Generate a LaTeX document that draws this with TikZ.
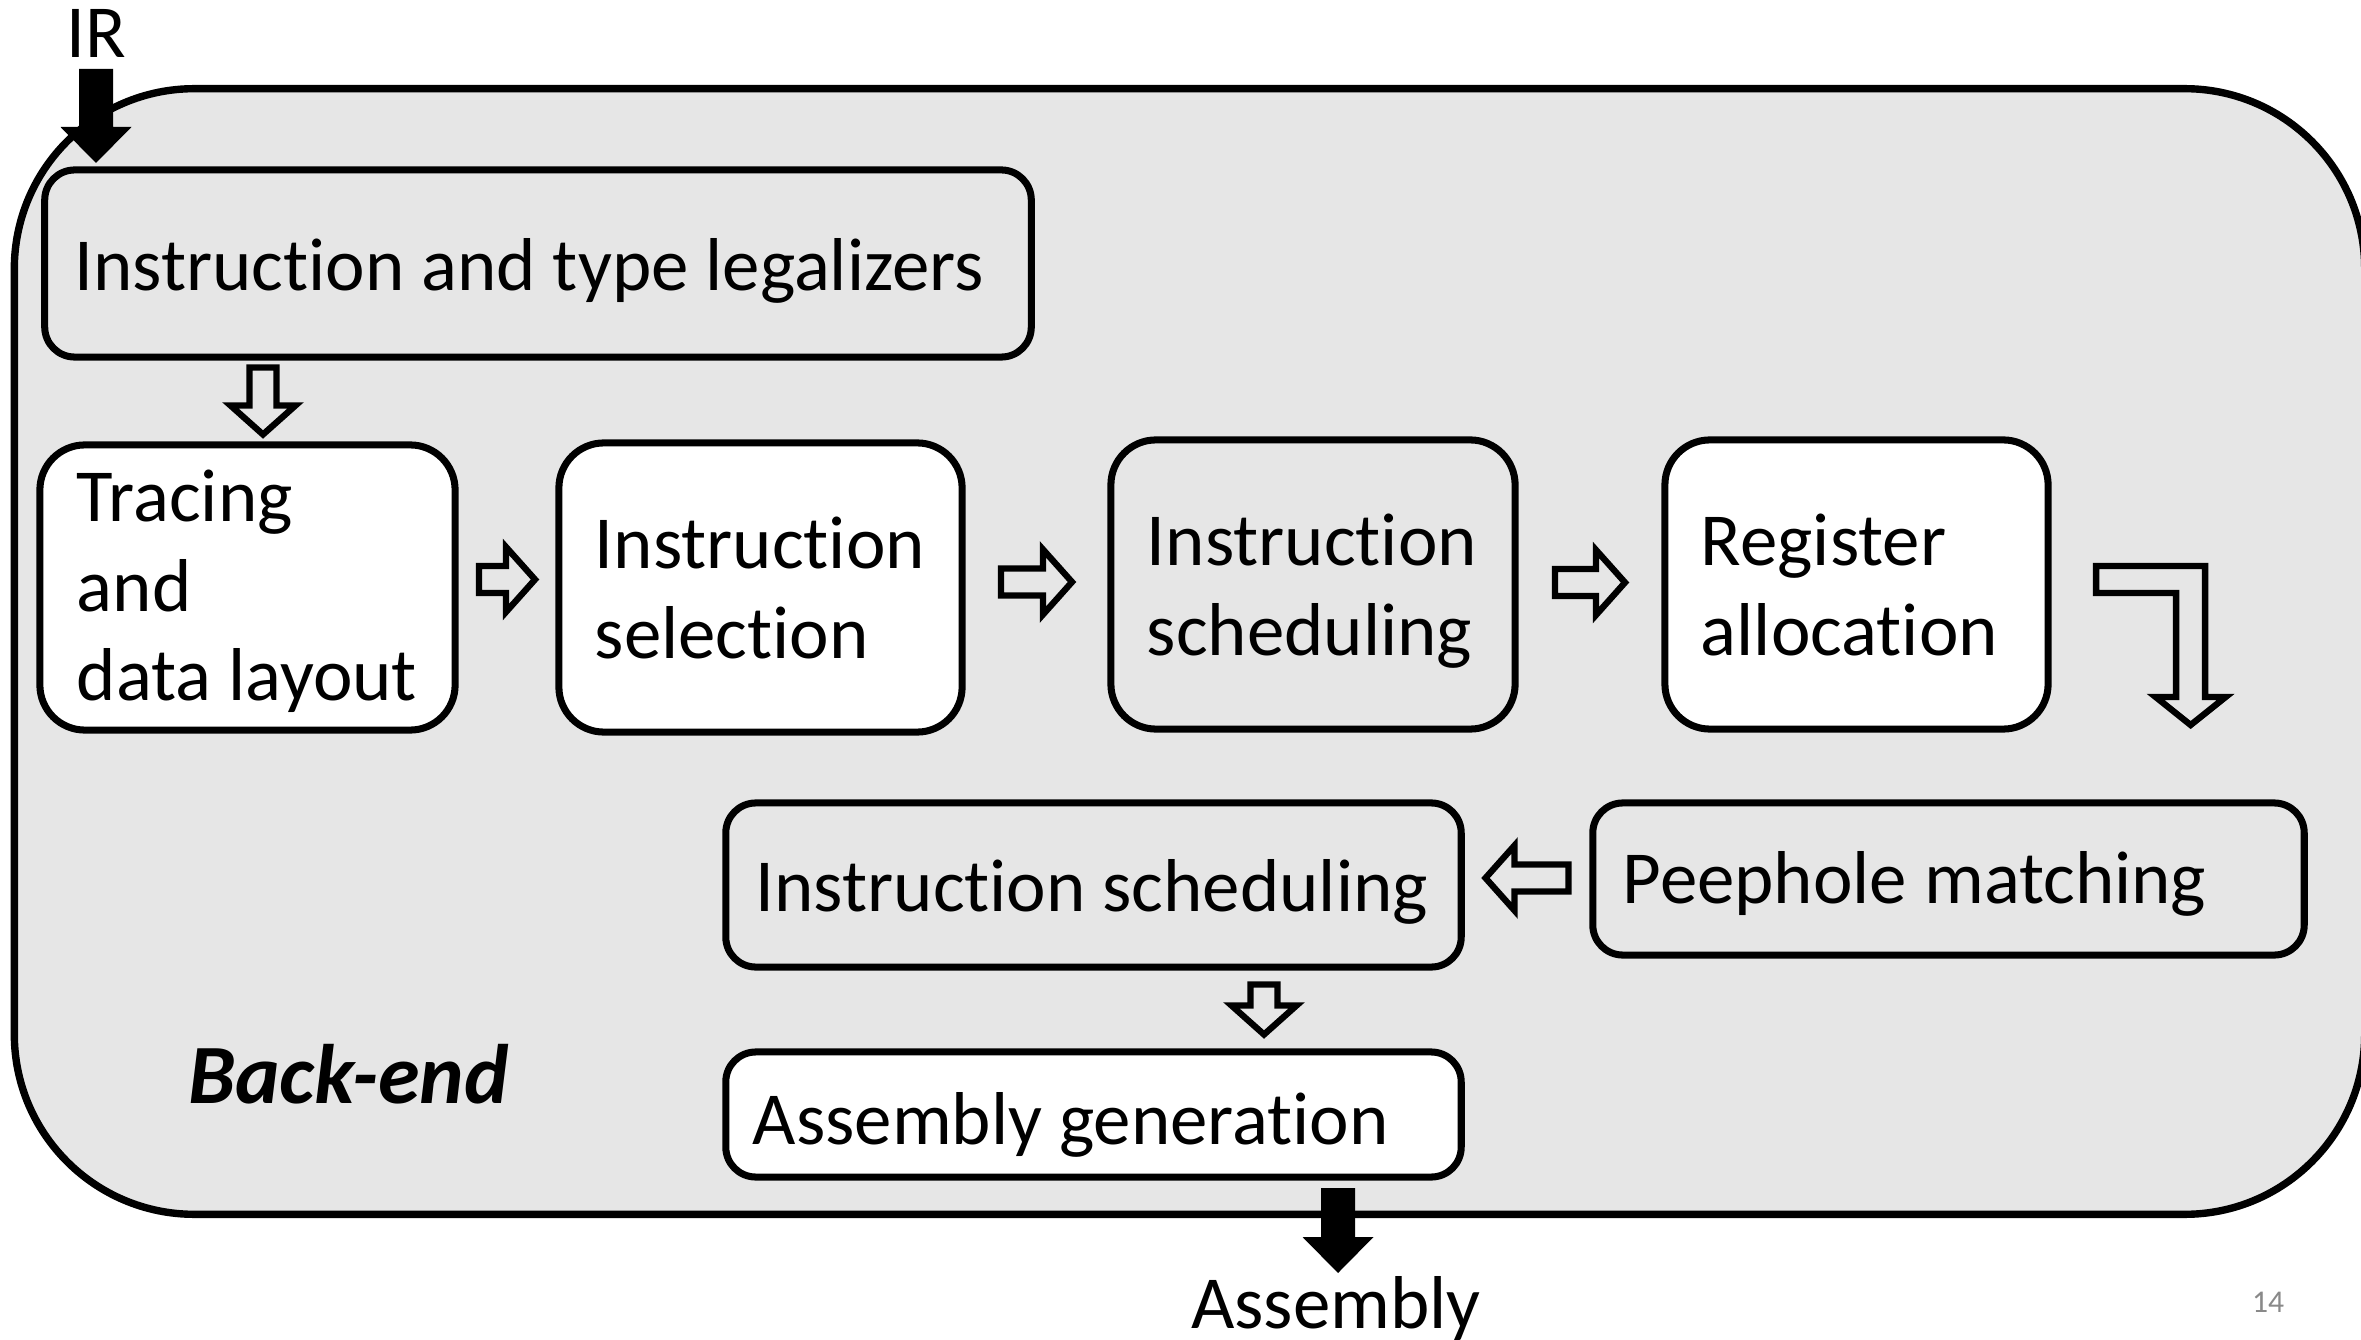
\documentclass[tikz,border=0pt]{standalone}
\usepackage{fontspec}
\setmainfont{Carlito}[Ligatures=NoCommon, RawFeature={-liga;-clig;-calt;-dlig}]
\usetikzlibrary{calc}
\definecolor{panel}{RGB}{230,230,230}
\definecolor{pagenum}{RGB}{137,137,137}
\tikzset{
  every node/.style={inner sep=0pt, outer sep=0pt},
  stage/.style={draw, line width=2pt, rounded corners=#1},
  stage/.default=0.3cm,
  stagetext/.style={anchor=base west, font=\fontsize{21.3pt}{25.4pt}\selectfont},
  arrowstroke/.style={draw, line width=1.8pt, line join=miter, fill=panel},
  pics/hollowarrow/.style={code={
    \path[arrowstroke] ({-#1/2},-13.5) -- ({#1/2-29},-13.5) -- ({#1/2-29},-32.5)
      -- ({#1/2},0) -- ({#1/2-29},32.5) -- ({#1/2-29},13.5) -- ({-#1/2},13.5) -- cycle;
  }},
  pics/solidarrow/.style={code={
    \fill ({-#1/2},-17) -- ({#1/2-36},-17) -- ({#1/2-36},-35.5)
      -- ({#1/2},0) -- ({#1/2-36},35.5) -- ({#1/2-36},17) -- ({-#1/2},17) -- cycle;
  }},
}
\begin{document}
\begin{tikzpicture}[x=0.01cm, y=-0.01cm]
\useasboundingbox (0,0) rectangle (2361,1340);

% back-end frame
\node[draw, line width=2.1pt, fill=panel, rounded corners=1.8cm,
      minimum width=23.49cm, minimum height=11.25cm] (frame) at (1189.5,651.5) {};
\node[anchor=base west, font=\fontsize{24pt}{28pt}\selectfont\bfseries\itshape]
  (bename) at (188,1103) {Back-end};

% stages
\node[stage, fill=panel, minimum width=9.86cm, minimum height=1.87cm] (legal) at (538,263.5) {};
\node[stage=0.45cm, fill=white, minimum width=4.15cm, minimum height=2.85cm] (trace) at (247.5,587.5) {};
\node[stage=0.45cm, fill=white, minimum width=4.03cm, minimum height=2.89cm] (sel) at (760.5,587.5) {};
\node[stage=0.45cm, fill=panel, minimum width=4.04cm, minimum height=2.89cm] (schedA) at (1313,584.5) {};
\node[stage=0.45cm, fill=white, minimum width=3.83cm, minimum height=2.89cm] (reg) at (1856.5,584.5) {};
\node[stage, fill=panel, minimum width=7.11cm, minimum height=1.52cm] (peep) at (1948.5,879) {};
\node[stage, fill=panel, minimum width=7.35cm, minimum height=1.64cm] (schedB) at (1093.5,885) {};
\node[stage, fill=white, minimum width=7.35cm, minimum height=1.25cm] (asm) at (1093.5,1114.5) {};

% stage texts
\node[stagetext] (legalT) at ([shift={(30,27.5)}]legal.west) {Instruction and type legalizers};
\node[stagetext] (traceT) at ([shift={(37,-65.5)}]trace.west)
  {\begin{tabular}[t]{@{}l@{}}Tracing\\and\\data layout\end{tabular}};
\node[stagetext] (selT) at ([shift={(36,-18.5)}]sel.west)
  {\begin{tabular}[t]{@{}l@{}}Instruction\\selection\end{tabular}};
\node[stagetext] (schedAT) at ([shift={(36,-18.5)}]schedA.west)
  {\begin{tabular}[t]{@{}l@{}}Instruction\\scheduling\end{tabular}};
\node[stagetext] (regT) at ([shift={(36,-18.5)}]reg.west)
  {\begin{tabular}[t]{@{}l@{}}Register\\allocation\end{tabular}};
\node[stagetext] (peepT) at ([shift={(30,24)}]peep.west) {Peephole matching};
\node[stagetext] (schedBT) at ([shift={(30,26)}]schedB.west) {Instruction scheduling};
\node[stagetext] (asmT) at ([shift={(27,29.5)}]asm.west) {Assembly generation};

% hollow flow arrows between stages
\pic[rotate=-90] at ([shift={(15.5,0)}]$(trace.north)!0.5!(trace.north|-legal.south)$) {hollowarrow=67};
\pic at ([shift={(0,-8)}]$(trace.east)!0.5!(sel.west)$) {hollowarrow=56};
\pic at ([shift={(0,-4)}]$(sel.east)!0.5!(schedA.west)$) {hollowarrow=71};
\pic at ([shift={(0,-2)}]$(schedA.east)!0.5!(reg.west)$) {hollowarrow=70};
\path[arrowstroke, shift={(reg.east)}]
  (48,-18.5) -- (157,-18.5) -- (157,112.5) -- (177.5,112.5) -- (142.5,140.5)
  -- (107.5,112.5) -- (128,112.5) -- (128,8.5) -- (48,8.5) -- cycle;
\pic[rotate=180] at ([shift={(0,-4)}]$(peep.west)!0.5!(schedB.east)$) {hollowarrow=83};
\pic[rotate=-90] at ([shift={(170.5,0)}]$(schedB.south)!0.5!(asm.north)$) {hollowarrow=50};

% input and output
\node[anchor=base, font=\fontsize{21.3pt}{25.4pt}\selectfont] (ir) at (96,58) {IR};
\pic[rotate=-90] at ([shift={(0,58)}]ir.base) {solidarrow=94};
\node[anchor=base, font=\fontsize{21.3pt}{25.4pt}\selectfont] (out) at (1336,1328) {Assembly};
\pic[rotate=-90] at ([shift={(2,-97.5)}]out.base) {solidarrow=85};

% page number
\node[anchor=base west, text=pagenum, font=\fontsize{9pt}{11pt}\selectfont] (pg) at (2252,1312) {14};
\end{tikzpicture}
\end{document}
